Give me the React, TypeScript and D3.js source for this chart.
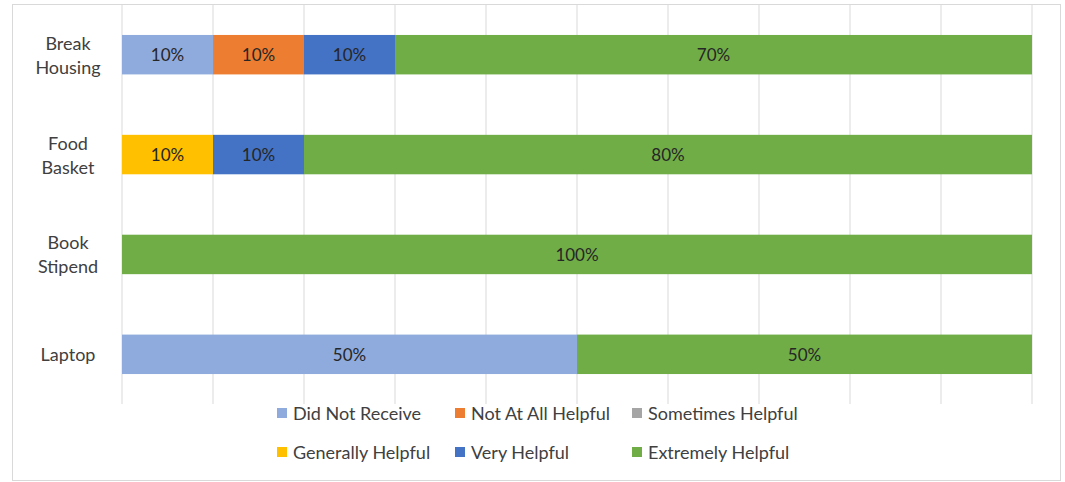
import React from "react";
import * as d3 from "d3";

const categories = ["Break Housing", "Food Basket", "Book Stipend", "Laptop"];
const categoryLines = [["Break", "Housing"], ["Food", "Basket"], ["Book", "Stipend"], ["Laptop"]];
const seriesNames = [
  "Did Not Receive",
  "Not At All Helpful",
  "Sometimes Helpful",
  "Generally Helpful",
  "Very Helpful",
  "Extremely Helpful",
];
const seriesColors = ["#8FAADC", "#ED7D31", "#A5A5A5", "#FFC000", "#4472C4", "#70AD47"];
const didNotReceive = [10, 0, 0, 50];
const notAtAllHelpful = [10, 0, 0, 0];
const sometimesHelpful = [0, 0, 0, 0];
const generallyHelpful = [0, 10, 0, 0];
const veryHelpful = [10, 10, 0, 0];
const extremelyHelpful = [70, 80, 100, 50];
const xTicks = [0, 10, 20, 30, 40, 50, 60, 70, 80, 90, 100];

const seriesValues = [didNotReceive, notAtAllHelpful, sometimesHelpful, generallyHelpful, veryHelpful, extremelyHelpful];

const W = 1065;
const H = 482;
const FONT = "Lato, 'Open Sans', sans-serif";

export default function App() {
  const x = d3.scaleLinear().domain([0, 100]).range([122, 1032]);
  const y = d3.scaleBand().domain(categories).range([5, 404]).paddingInner(0.605).paddingOuter(0.3);

  const rows = categories.map((c, i) => {
    const obj: any = { cat: c };
    seriesNames.forEach((s, j) => (obj[s] = seriesValues[j][i]));
    return obj;
  });
  const stack = d3.stack<any>().keys(seriesNames)(rows);

  const legendCols = [277, 455, 632];
  const legendRows = [413, 452];

  return (
    <svg width={W} height={H} style={{ position: "absolute", left: 0, top: 0 }} fontFamily={FONT}>
      <rect x={0} y={0} width={W} height={H} fill="#fff" />
      <rect x={12.5} y={4.5} width={1048} height={476} fill="#fff" stroke="#d9d9d9" strokeWidth={1} />
      {xTicks.map((t) => (
        <line key={t} x1={x(t)} x2={x(t)} y1={5} y2={404} stroke="#d9d9d9" strokeWidth={1} />
      ))}
      {stack.map((layer, j) =>
        layer.map((d, i) => {
          const w = x(d[1]) - x(d[0]);
          if (w <= 0) return null;
          return (
            <g key={`${j}-${i}`}>
              <rect x={x(d[0])} y={y(categories[i])!} width={w} height={y.bandwidth()} fill={seriesColors[j]} />
              <text
                x={(x(d[0]) + x(d[1])) / 2}
                y={y(categories[i])! + y.bandwidth() / 2}
                textAnchor="middle"
                dominantBaseline="central"
                fontSize={17}
                fill="#262626"
              >
                {`${d[1] - d[0]}%`}
              </text>
            </g>
          );
        })
      )}
      {categories.map((c, i) => {
        const lines = categoryLines[i];
        const cy = y(c)! + y.bandwidth() / 2;
        return (
          <text key={c} x={68} textAnchor="middle" fontSize={18} fill="#404040">
            {lines.map((l, k) => (
              <tspan key={k} x={68} y={cy + (k - (lines.length - 1) / 2) * 24} dominantBaseline="central">
                {l}
              </tspan>
            ))}
          </text>
        );
      })}
      {seriesNames.map((s, j) => {
        const lx = legendCols[j % 3];
        const ly = legendRows[Math.floor(j / 3)];
        return (
          <g key={s}>
            <rect x={lx} y={ly - 5} width={10} height={10} fill={seriesColors[j]} />
            <text x={lx + 16} y={ly} dominantBaseline="central" fontSize={18} fill="#404040">
              {s}
            </text>
          </g>
        );
      })}
    </svg>
  );
}
